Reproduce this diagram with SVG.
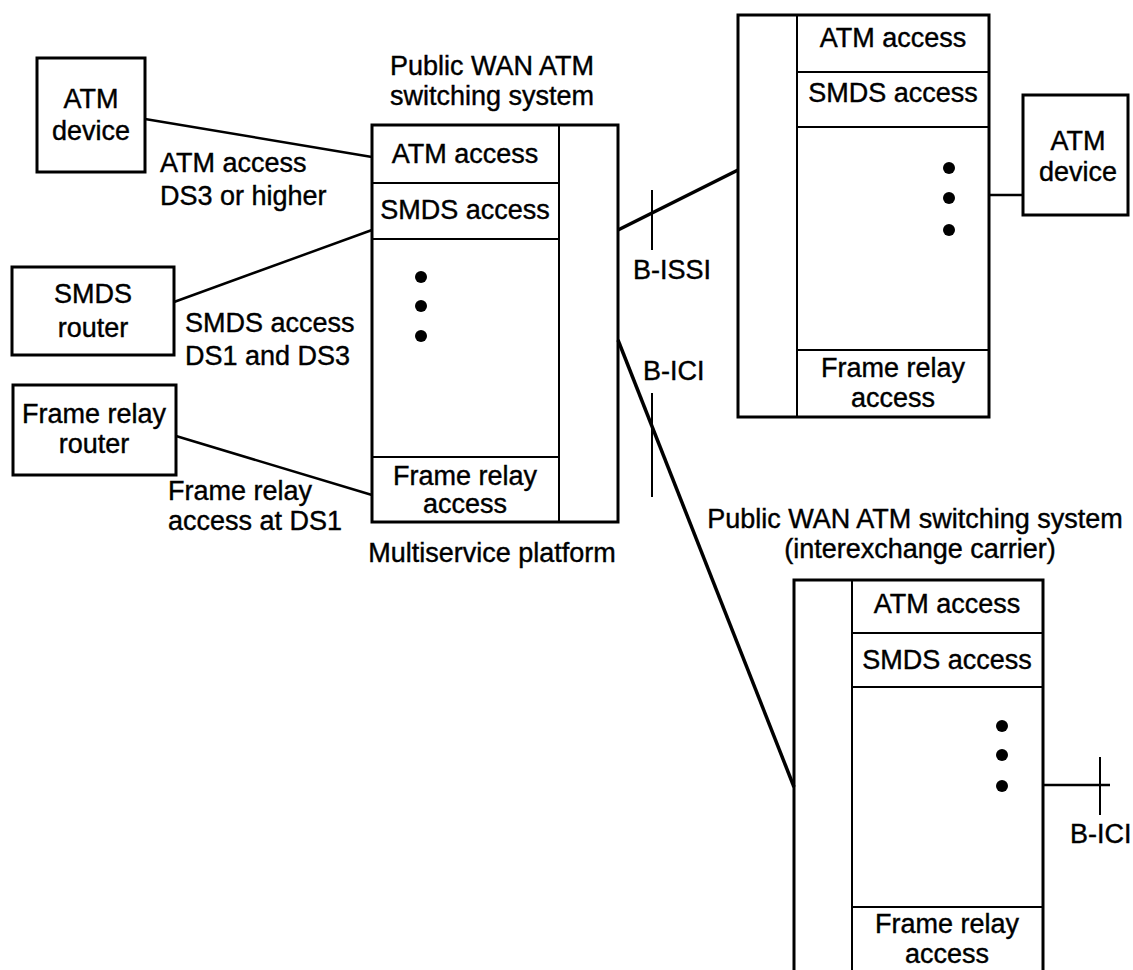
<svg xmlns="http://www.w3.org/2000/svg" width="1133" height="970" viewBox="0 0 1133 970">
<style>
text{font-family:"Liberation Sans",Arial,Helvetica,sans-serif;font-size:27px;fill:#000;stroke:#000;stroke-width:0.4}
.c{text-anchor:middle}
.box{fill:none;stroke:#000;stroke-width:3}
.in{fill:none;stroke:#000;stroke-width:2}
.ln{fill:none;stroke:#000;stroke-width:2.5}
.hv{fill:none;stroke:#000;stroke-width:3.5}
.tk{fill:none;stroke:#000;stroke-width:2}
</style>
<rect width="1133" height="970" fill="#fff"/>

<g id="connectors">
<line class="ln" x1="145" y1="119" x2="372" y2="157"/>
<line class="ln" x1="174" y1="302" x2="372" y2="230"/>
<line class="ln" x1="176" y1="436" x2="372" y2="495"/>
<line class="hv" x1="618" y1="230" x2="738" y2="170"/>
<line class="tk" x1="652" y1="190" x2="652" y2="250"/>
<line class="hv" x1="618" y1="340" x2="794" y2="787"/>
<line class="tk" x1="652" y1="393" x2="652" y2="497"/>
<line class="ln" x1="989" y1="195" x2="1023" y2="195"/>
<line class="ln" x1="1043" y1="785" x2="1110" y2="785"/>
<line class="tk" x1="1100" y1="757" x2="1100" y2="815"/>
</g>

<g id="labels">
<text x="160" y="172">ATM access</text>
<text x="160" y="205">DS3 or higher</text>
<text x="185" y="332">SMDS access</text>
<text x="185" y="365">DS1 and DS3</text>
<text x="168" y="500">Frame relay</text>
<text x="168" y="530">access at DS1</text>
<text x="633" y="279">B-ISSI</text>
<text x="643" y="380">B-ICI</text>
<text x="1070" y="843">B-ICI</text>
</g>

<g id="atm-device-left">
<rect class="box" x="37" y="58" width="108" height="114"/>
<text class="c" x="91" y="108">ATM</text>
<text class="c" x="91" y="140">device</text>
</g>

<g id="smds-router">
<rect class="box" x="12" y="267" width="162" height="88"/>
<text class="c" x="93" y="303">SMDS</text>
<text class="c" x="93" y="337">router</text>
</g>

<g id="frame-relay-router">
<rect class="box" x="13" y="385" width="163" height="90"/>
<text class="c" x="94" y="423">Frame relay</text>
<text class="c" x="94" y="453">router</text>
</g>

<g id="multiservice-platform">
<text class="c" x="492" y="75">Public WAN ATM</text>
<text class="c" x="492" y="105">switching system</text>
<rect class="box" x="372" y="125" width="246" height="397"/>
<line class="in" x1="559" y1="125" x2="559" y2="522"/>
<line class="in" x1="372" y1="183" x2="559" y2="183"/>
<line class="in" x1="372" y1="239" x2="559" y2="239"/>
<line class="in" x1="372" y1="457" x2="559" y2="457"/>
<text class="c" x="465" y="163">ATM access</text>
<text class="c" x="465" y="219">SMDS access</text>
<circle cx="421" cy="277" r="6"/>
<circle cx="421" cy="306" r="6"/>
<circle cx="421" cy="336" r="6"/>
<text class="c" x="465" y="485">Frame relay</text>
<text class="c" x="465" y="513">access</text>
<text class="c" x="492" y="562">Multiservice platform</text>
</g>

<g id="switch-top-right">
<rect class="box" x="738" y="15" width="251" height="402"/>
<line class="in" x1="797" y1="15" x2="797" y2="417"/>
<line class="in" x1="797" y1="72" x2="989" y2="72"/>
<line class="in" x1="797" y1="127" x2="989" y2="127"/>
<line class="in" x1="797" y1="350" x2="989" y2="350"/>
<text class="c" x="893" y="47">ATM access</text>
<text class="c" x="893" y="102">SMDS access</text>
<circle cx="949" cy="168" r="6"/>
<circle cx="949" cy="198" r="6"/>
<circle cx="949" cy="230" r="6"/>
<text class="c" x="893" y="377">Frame relay</text>
<text class="c" x="893" y="407">access</text>
</g>

<g id="atm-device-right">
<rect class="box" x="1023" y="95" width="105" height="120"/>
<text class="c" x="1078" y="150">ATM</text>
<text class="c" x="1078" y="181">device</text>
</g>

<g id="switch-interexchange">
<text class="c" x="915" y="528">Public WAN ATM switching system</text>
<text class="c" x="920" y="558">(interexchange carrier)</text>
<rect class="box" x="794" y="580" width="249" height="420"/>
<line class="in" x1="852" y1="580" x2="852" y2="970"/>
<line class="in" x1="852" y1="633" x2="1043" y2="633"/>
<line class="in" x1="852" y1="687" x2="1043" y2="687"/>
<line class="in" x1="852" y1="907" x2="1043" y2="907"/>
<text class="c" x="947" y="613">ATM access</text>
<text class="c" x="947" y="669">SMDS access</text>
<circle cx="1002" cy="726" r="6"/>
<circle cx="1002" cy="755" r="6"/>
<circle cx="1002" cy="786" r="6"/>
<text class="c" x="947" y="933">Frame relay</text>
<text class="c" x="947" y="963">access</text>
</g>
</svg>
